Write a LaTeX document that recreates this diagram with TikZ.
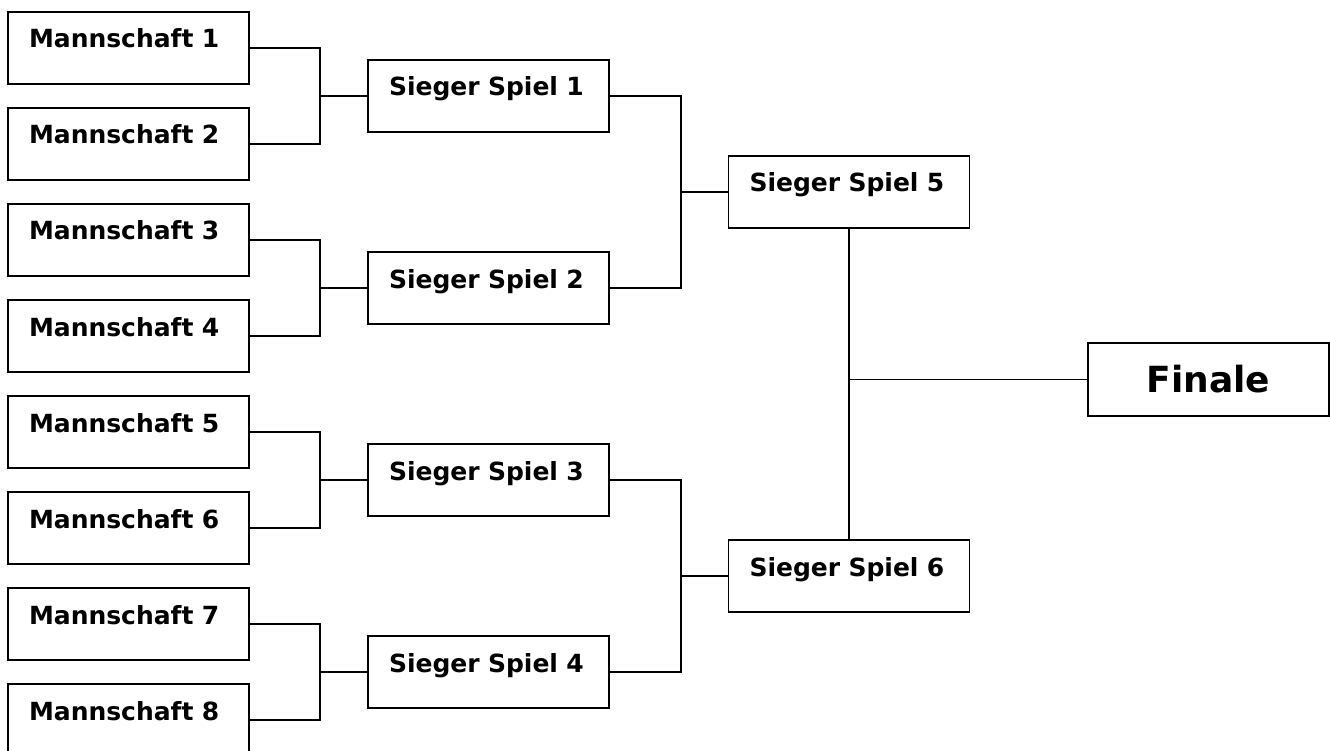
\documentclass[tikz,border=0pt]{standalone}
\usepackage{fontspec}
\setmainfont{DejaVu Sans}
\begin{document}
\begin{tikzpicture}[x=1pt,y=-1pt,
  box/.style={draw,line width=1.6pt,fill=white,inner ysep=0pt,inner xsep=21pt,
    text width=199pt,align=left,text height=36pt,text depth=36pt,
    font=\fontsize{25}{28}\selectfont\bfseries},
  finalbox/.style={draw,line width=1.6pt,fill=white,minimum width=241pt,minimum height=73pt,
    inner sep=0pt,font=\fontsize{36}{40}\selectfont\bfseries},
  conn/.style={line width=1.4pt}]
\useasboundingbox (0,0) rectangle (1330,751);
\fill[white] (0,0) rectangle (1330,751);
% teams
\node[box] (m1) at (128.5,48) {Mannschaft~1};
\node[box] (m2) at (128.5,144) {Mannschaft~2};
\node[box] (m3) at (128.5,240) {Mannschaft~3};
\node[box] (m4) at (128.5,336) {Mannschaft~4};
\node[box] (m5) at (128.5,432) {Mannschaft~5};
\node[box] (m6) at (128.5,528) {Mannschaft~6};
\node[box] (m7) at (128.5,624) {Mannschaft~7};
\node[box] (m8) at (128.5,720) {Mannschaft~8};
% winners round 1
\node[box] (s1) at (488.5,96) {Sieger~Spiel~1};
\node[box] (s2) at (488.5,288) {Sieger~Spiel~2};
\node[box] (s3) at (488.5,480) {Sieger~Spiel~3};
\node[box] (s4) at (488.5,672) {Sieger~Spiel~4};
% winners round 2
\node[box] (s5) at (849,192) {Sieger~Spiel~5};
\node[box] (s6) at (849,576) {Sieger~Spiel~6};
% final
\node[finalbox] (f) at (1208.5,379.5) {Finale};
% junctions
\coordinate (j1) at (320,96);
\coordinate (j2) at (320,288);
\coordinate (j3) at (320,480);
\coordinate (j4) at (320,672);
\coordinate (k1) at (681,192);
\coordinate (k2) at (681,576);
\coordinate (c) at (849,379.5);
\draw[conn] (m1.east) -| (j1) |- (m2.east);
\draw[conn] (j1) -- (s1.west);
\draw[conn] (m3.east) -| (j2) |- (m4.east);
\draw[conn] (j2) -- (s2.west);
\draw[conn] (m5.east) -| (j3) |- (m6.east);
\draw[conn] (j3) -- (s3.west);
\draw[conn] (m7.east) -| (j4) |- (m8.east);
\draw[conn] (j4) -- (s4.west);
\draw[conn] (s1.east) -| (k1) |- (s2.east);
\draw[conn] (k1) -- (s5.west);
\draw[conn] (s3.east) -| (k2) |- (s4.east);
\draw[conn] (k2) -- (s6.west);
\draw[conn] (s5.south) -- (s6.north);
\draw[conn] (c) -- (f.west);
\end{tikzpicture}
\end{document}
